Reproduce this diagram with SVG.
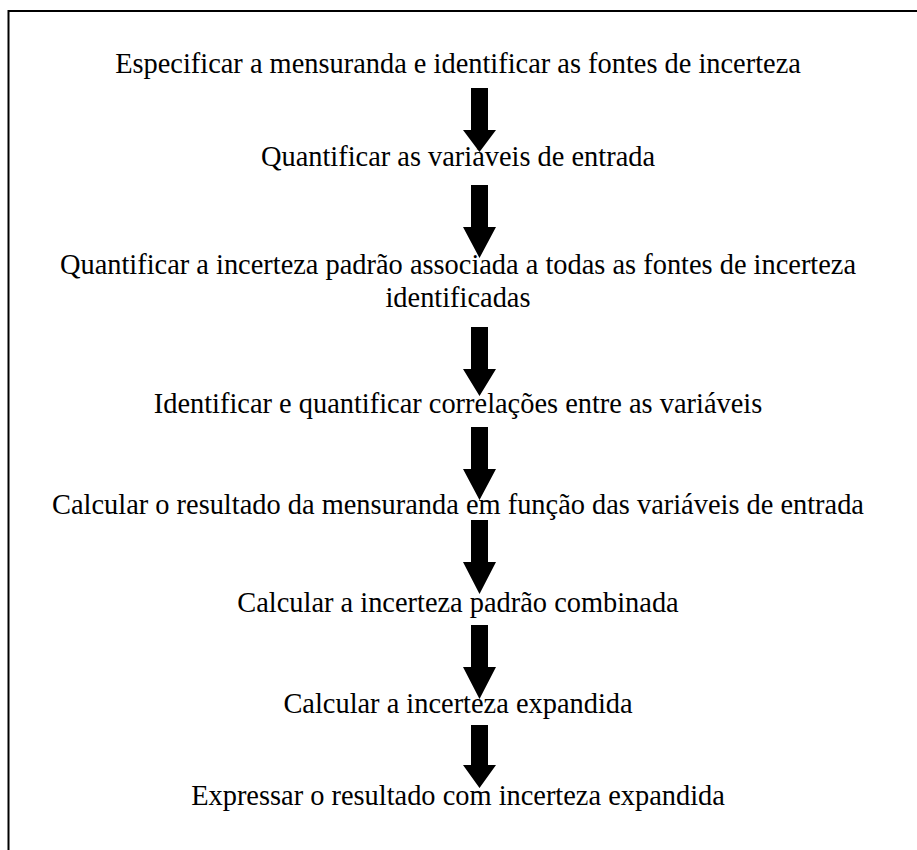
<svg xmlns="http://www.w3.org/2000/svg" width="917" height="850" viewBox="0 0 917 850">
<style>
.t{font-family:"Liberation Serif","Times New Roman",serif;font-size:28.4px;fill:#000;text-anchor:middle}
.a{fill:#000;stroke:none}
</style>
<rect width="917" height="850" fill="#fff"/>
<path d="M917 11H8.5V850" fill="none" stroke="#000" stroke-width="2"/>
<g id="connectors">
<polygon class="a" points="471,88 488,88 488,130 496,130 479.5,152 463,130 471,130"/>
<polygon class="a" points="471,185 488,185 488,227 496,227 479.5,258 463,227 471,227"/>
<polygon class="a" points="471,327 488,327 488,369 496,369 479.5,396 463,369 471,369"/>
<polygon class="a" points="471,427 488,427 488,469 496,469 479.5,500 463,469 471,469"/>
<polygon class="a" points="471,520 488,520 488,562 496,562 479.5,594 463,562 471,562"/>
<polygon class="a" points="471,625 488,625 488,667 496,667 479.5,699 463,667 471,667"/>
<polygon class="a" points="471,725 488,725 488,765 496,765 479.5,788 463,765 471,765"/>
</g>
<g id="n1"><text class="t" x="458" y="73">Especificar a mensuranda e identificar as fontes de incerteza</text></g>
<g id="n2"><text class="t" x="458" y="166">Quantificar as variáveis de entrada</text></g>
<g id="n3"><text class="t" x="458" y="274">Quantificar a incerteza padrão associada a todas as fontes de incerteza</text><text class="t" x="458" y="307">identificadas</text></g>
<g id="n4"><text class="t" x="458" y="413">Identificar e quantificar correlações entre as variáveis</text></g>
<g id="n5"><text class="t" x="458" y="514">Calcular o resultado da mensuranda em função das variáveis de entrada</text></g>
<g id="n6"><text class="t" x="458" y="612">Calcular a incerteza padrão combinada</text></g>
<g id="n7"><text class="t" x="458" y="713">Calcular a incerteza expandida</text></g>
<g id="n8"><text class="t" x="458" y="805">Expressar o resultado com incerteza expandida</text></g>
</svg>
